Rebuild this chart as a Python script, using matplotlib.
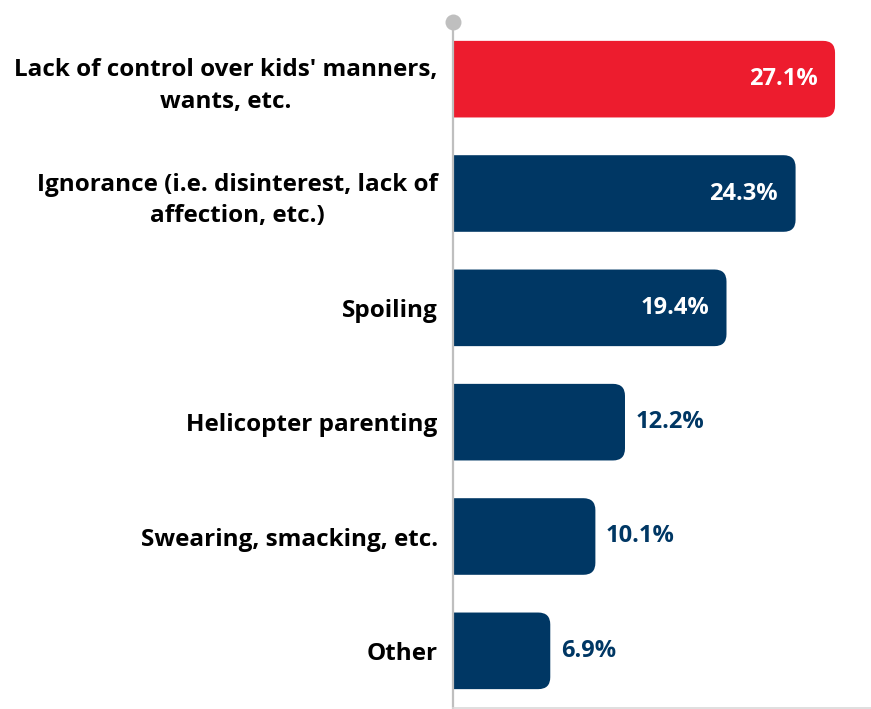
import matplotlib.pyplot as plt
from matplotlib.patches import FancyBboxPatch

categories = ["Lack of control over kids' manners,\nwants, etc.",
              "Ignorance (i.e. disinterest, lack of\naffection, etc.)",
              "Spoiling",
              "Helicopter parenting",
              "Swearing, smacking, etc.",
              "Other"]
values = [27.1, 24.3, 19.4, 12.2, 10.1, 6.9]
labels = ["27.1%", "24.3%", "19.4%", "12.2%", "10.1%", "6.9%"]

red = '#ED1C2E'
navy = '#003764'
grey = '#BFBFBF'

plt.rcParams['font.family'] = ['Open Sans', 'DejaVu Sans']

fig = plt.figure(figsize=(8.71, 7.09), dpi=100)
ax = fig.add_axes([453/871, 1/709, 1 - 453/871, (708 - 22)/709])

xmax = 29.65
ax.set_xlim(0, xmax)
ax.set_ylim(5.5, -0.5)

# rounding corrected for the different x/y scales
aspect = (6.0/686) / (xmax/418)
bar_h = 0.67
for i, v in enumerate(values):
    color = red if i == 0 else navy
    box = FancyBboxPatch((-2, i - bar_h/2), v + 2, bar_h,
                         boxstyle='round,pad=0,rounding_size=0.85',
                         mutation_aspect=aspect, fc=color, ec='none')
    ax.add_patch(box)
    if v > 15:
        ax.text(v - 1.25, i, labels[i], color='white', fontsize=17, fontweight='bold',
                ha='right', va='center')
    else:
        ax.text(v + 0.75, i, labels[i], color=navy, fontsize=17, fontweight='bold',
                ha='left', va='center')

ax.set_yticks(range(len(categories)))
ax.set_yticklabels(categories, fontsize=17.5, fontweight='bold', ha='right',
                   multialignment='center', linespacing=1.42)
ax.tick_params(axis='y', length=0, pad=11)
ax.set_xticks([])

for s in ['top', 'right']:
    ax.spines[s].set_visible(False)
ax.spines['left'].set_color(grey)
ax.spines['left'].set_linewidth(1.6)
ax.spines['bottom'].set_color('#D9D9D9')
ax.spines['bottom'].set_linewidth(1.2)

ax.plot([0], [1], 'o', transform=ax.transAxes, clip_on=False, ms=11.5,
        color=grey, mec='none', zorder=5)

fig.savefig('out.png', dpi=100)
